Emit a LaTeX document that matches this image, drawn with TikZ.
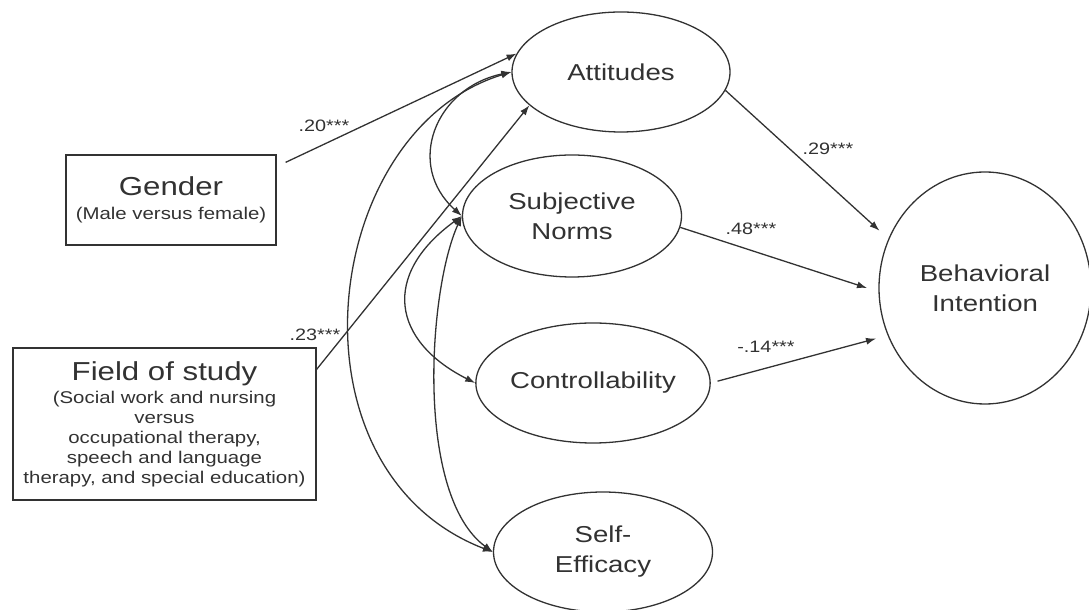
\documentclass[tikz,border=0pt]{standalone}
\usepackage{fontspec}
\setmainfont{Liberation Sans}[FakeStretch=1.2]
\usetikzlibrary{shapes.geometric,arrows.meta}
\definecolor{ink}{RGB}{50,50,50}

\begin{document}
\begin{tikzpicture}[x=1pt, y=1pt, line width=1.3pt, color=ink,
  construct/.style={ellipse, draw, minimum width=219pt, minimum height=120pt, inner sep=0pt, align=center, font=\fontsize{23}{30}\selectfont},
  predictor/.style={rectangle, draw, inner sep=0pt, align=center, font=\fontsize{17}{20}\selectfont},
  effect/.style={-{Latex[length=10pt,width=7pt]}},
  corr/.style={{Latex[length=10pt,width=7pt]}-{Latex[length=10pt,width=7pt]}},
  coef/.style={font=\fontsize{16.5}{18}\selectfont}]

\useasboundingbox (0,0) rectangle (1089,610);

% the constructs
\node[construct, minimum width=218pt] (att) at (621,538) {Attitudes};
\node[construct, minimum height=122pt] (sn) at (572,394) {Subjective\\Norms};
\node[construct] (ctl) at (593,227) {Controllability};
\node[construct] (se) at (603,58) {Self-\\Efficacy};
\node[construct, minimum width=212pt, minimum height=232pt] (bi) at (985,322) {Behavioral\\Intention};

% the predictors
\node[predictor, minimum width=210pt, minimum height=90pt] (gender) at (171,410)
  {{\fontsize{26}{30}\selectfont Gender}\\[4pt](Male versus female)};
\node[predictor, minimum width=303pt, minimum height=152pt] (field) at (164.5,186)
  {{\fontsize{26}{30}\selectfont Field of study}\\[3pt](Social work and nursing\\versus\\occupational therapy,\\speech and language\\therapy, and special education)};

% predictors on attitudes
\draw[effect] ([xshift=9pt,yshift=-8pt]gender.north east) -- (att.170);
\node[coef] (b20) at (324,484) {.20***};
\draw[effect] ([yshift=-22pt]field.north east) -- (att.200);
\node[coef] (b23) at (315,275) {.23***};

% constructs on intention
\draw[effect, shorten >=12pt] (att.-10) -- (bi.153);
\node[coef] (b29) at (828,461) {.29***};
\draw[effect, shorten >=12pt] (sn.-6) -- (bi.182);
\node[coef] (b48) at (751,381) {.48***};
\draw[effect, shorten <=7pt, shorten >=12pt] (ctl.east) -- (bi.206);
\node[coef] (b14) at (766,263) {-.14***};

% correlations
\draw[corr] (sn.west) .. controls (405,445) and (435,522) .. (att.west);
\draw[corr] (se.west) .. controls (280,140) and (320,480) .. (att.west);
\draw[corr] (sn.west) .. controls (381,335) and (392,269) .. (ctl.west);
\draw[corr] (sn.west) .. controls (428,320) and (415,115) .. (se.west);

\end{tikzpicture}
\end{document}
